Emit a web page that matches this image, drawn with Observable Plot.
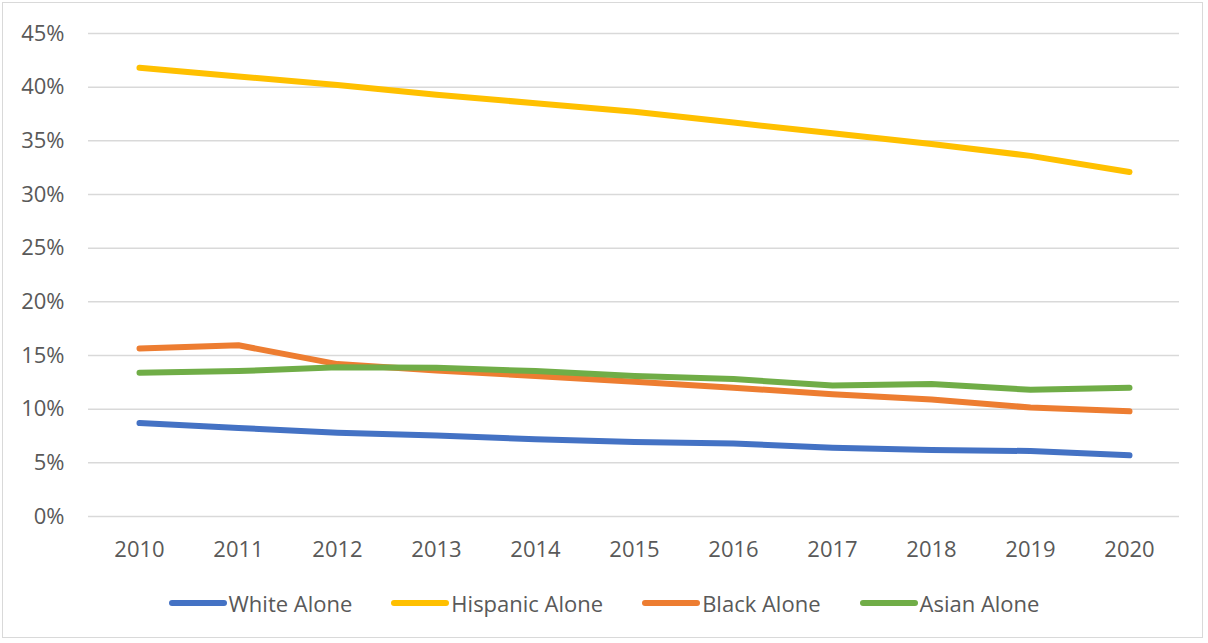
<!DOCTYPE html>
<html>
<head>
<meta charset="utf-8">
<script src="https://cdn.jsdelivr.net/npm/d3@7"></script>
<script src="https://cdn.jsdelivr.net/npm/@observablehq/plot@0.6"></script>
<style>
  html, body { margin: 0; padding: 0; background: #fff; }
  #frame { position: absolute; left: 2px; top: 2px; width: 1201px; height: 636px; border: 1.5px solid #d9d9d9; box-sizing: border-box; }
  #chart { position: absolute; left: 0; top: 0; }
  #legend { position: absolute; left: 0; top: 588px; width: 1208px; display: flex; justify-content: center; gap: 39px;
            font-family: "Open Sans", sans-serif; font-size: 22px; color: #595959; padding-left: 0px; }
  .item { display: flex; align-items: center; }
  .sw { width: 58px; height: 6px; border-radius: 3px; margin-right: 2px; }
</style>
</head>
<body>
<div id="frame"></div>
<div id="chart"></div>
<div id="legend"></div>
<script>
const years = [2010, 2011, 2012, 2013, 2014, 2015, 2016, 2017, 2018, 2019, 2020];
const seriesNames = ["White Alone", "Hispanic Alone", "Black Alone", "Asian Alone"];
const seriesColors = ["#4472C4", "#FFC000", "#ED7D31", "#70AD47"];
const whiteAlone    = [8.7, 8.25, 7.8, 7.55, 7.2, 6.95, 6.8, 6.4, 6.2, 6.1, 5.7];
const hispanicAlone = [41.8, 41.0, 40.2, 39.3, 38.5, 37.7, 36.7, 35.7, 34.7, 33.6, 32.1];
const blackAlone    = [15.65, 15.95, 14.2, 13.6, 13.1, 12.55, 12.0, 11.4, 10.9, 10.15, 9.8];
const asianAlone    = [13.4, 13.55, 13.9, 13.85, 13.55, 13.1, 12.8, 12.2, 12.35, 11.8, 12.0];
const yTicks = [0, 5, 10, 15, 20, 25, 30, 35, 40, 45];

const seriesValues = [whiteAlone, hispanicAlone, blackAlone, asianAlone];
const rows = [];
seriesNames.forEach((name, i) => {
  years.forEach((yr, j) => rows.push({series: name, year: String(yr), value: seriesValues[i][j]}));
});

const plot = Plot.plot({
  width: 1208,
  height: 575,
  marginLeft: 88,
  marginRight: 29,
  marginTop: 33,
  marginBottom: 59,
  style: {fontFamily: "'Open Sans', sans-serif", fontSize: "22px", color: "#595959", background: "transparent"},
  x: {type: "point", domain: years.map(String), padding: 0.5, label: null},
  y: {domain: [0, 45], label: null},
  color: {domain: seriesNames, range: seriesColors},
  marks: [
    Plot.ruleY(yTicks, {stroke: "#d9d9d9", strokeWidth: 1.5}),
    Plot.axisY(yTicks, {tickSize: 0, tickPadding: 24, tickFormat: d => d + "%", label: null, fill: "#595959", fontSize: 22}),
    Plot.axisX({tickSize: 0, tickPadding: 25, label: null, fill: "#595959", fontSize: 22}),
    Plot.line(rows, {x: "year", y: "value", z: "series", stroke: "series", strokeWidth: 6,
      strokeLinecap: "round", strokeLinejoin: "round"})
  ]
});
document.getElementById("chart").appendChild(plot);

const legend = document.getElementById("legend");
seriesNames.forEach((name, i) => {
  const item = document.createElement("div");
  item.className = "item";
  const sw = document.createElement("div");
  sw.className = "sw";
  sw.style.background = seriesColors[i];
  const t = document.createElement("span");
  t.textContent = name;
  item.appendChild(sw);
  item.appendChild(t);
  legend.appendChild(item);
});
</script>
</body>
</html>
